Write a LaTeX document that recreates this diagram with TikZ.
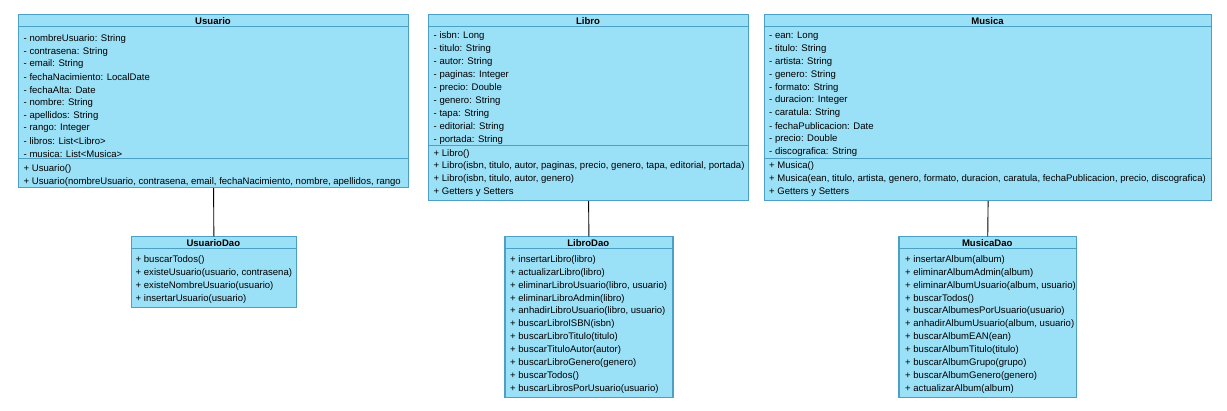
\documentclass[tikz,border=0pt]{standalone}
\usepackage{fontspec}
\setmainfont{Liberation Sans}
\definecolor{umlfill}{RGB}{154,224,247}
\definecolor{umlline}{RGB}{76,160,195}

\begin{document}
\begin{tikzpicture}[x=1pt, y=-1pt,
  classbox/.style={draw=umlline, fill=umlfill, line width=1.2pt, anchor=north west, inner sep=0pt},
  sepline/.style={draw=umlline, line width=1pt},
  member/.style={anchor=west, inner sep=0pt, yshift=-0.8pt, font=\fontsize{9.55}{11}\selectfont},
  classtitle/.style={inner sep=0pt, yshift=-0.5pt, font=\fontsize{9.55}{11}\selectfont\bfseries}]

\useasboundingbox (0,0) rectangle (1227,411);

% Usuario
\node[classbox, minimum width=390pt, minimum height=173pt] (usuario) at (18,14) {};
\node[classtitle] (usuariotitle) at (213,20.5) {Usuario};
\draw[sepline] (18,27) -- (408,27);
\draw[sepline] (18,159) -- (408,159);
\foreach \t [count=\i] in {- nombreUsuario: String, - contrasena: String, - email: String,
  - fechaNacimiento: LocalDate, - fechaAlta: Date, - nombre: String, - apellidos: String,
  - rango: Integer, - libros: List<Libro>, - musica: List<Musica>}
  \node[member] (usuario-a\i) at (23.5,{38+12.8*(\i-1)}) {\t};
\node[member] (usuario-m1) at (23.5,168) {+ Usuario()};
\node[member] (usuario-m2) at (23.5,181) {+ Usuario(nombreUsuario, contrasena, email, fechaNacimiento, nombre, apellidos, rango};

% Libro
\node[classbox, minimum width=320pt, minimum height=186pt] (libro) at (428,14) {};
\node[classtitle] (librotitle) at (588,20.5) {Libro};
\draw[sepline] (428,27) -- (748,27);
\draw[sepline] (428,146) -- (748,146);
\foreach \t [count=\i] in {- isbn: Long, - titulo: String, - autor: String, - paginas: Integer,
  - precio: Double, - genero: String, - tapa: String, - editorial: String, - portada: String}
  \node[member] (libro-a\i) at (433.5,{35.7+12.9*(\i-1)}) {\t};
\foreach \t [count=\i] in {+ Libro(),
  {+ Libro(isbn, titulo, autor, paginas, precio, genero, tapa, editorial, portada)},
  {+ Libro(isbn, titulo, autor, genero)}, + Getters y Setters}
  \node[member] (libro-m\i) at (433.5,{153+12.7*(\i-1)}) {\t};

% Musica
\node[classbox, minimum width=447pt, minimum height=186pt] (musica) at (764,14) {};
\node[classtitle] (musicatitle) at (987.5,20.5) {Musica};
\draw[sepline] (764,27) -- (1211,27);
\draw[sepline] (764,159) -- (1211,159);
\foreach \t [count=\i] in {- ean: Long, - titulo: String, - artista: String, - genero: String,
  - formato: String, - duracion: Integer, - caratula: String, - fechaPublicacion: Date,
  - precio: Double, - discografica: String}
  \node[member] (musica-a\i) at (769,{35.7+12.8*(\i-1)}) {\t};
\foreach \t [count=\i] in {+ Musica(),
  {+ Musica(ean, titulo, artista, genero, formato, duracion, caratula, fechaPublicacion, precio, discografica)},
  + Getters y Setters}
  \node[member] (musica-m\i) at (769,{165+13*(\i-1)}) {\t};

% UsuarioDao
\node[classbox, minimum width=164.5pt, minimum height=70.5pt] (usuariodao) at (131,236.3) {};
\node[classtitle] (usuariodaotitle) at (213.3,242.8) {UsuarioDao};
\draw[sepline] (131,249) -- (295.5,249);
\foreach \t [count=\i] in {+ buscarTodos(), {+ existeUsuario(usuario, contrasena)},
  + existeNombreUsuario(usuario), + insertarUsuario(usuario)}
  \node[member] (usuariodao-m\i) at (135.5,{259+13.1*(\i-1)}) {\t};

% LibroDao
\node[classbox, minimum width=168pt, minimum height=161pt] (librodao) at (504.3,236.3) {};
\node[classtitle] (librodaotitle) at (588.3,242.8) {LibroDao};
\draw[sepline] (504.3,249) -- (672.3,249);
\foreach \t [count=\i] in {+ insertarLibro(libro), + actualizarLibro(libro),
  {+ eliminarLibroUsuario(libro, usuario)}, + eliminarLibroAdmin(libro),
  {+ anhadirLibroUsuario(libro, usuario)}, + buscarLibroISBN(isbn), + buscarLibroTitulo(titulo),
  + buscarTituloAutor(autor), + buscarLibroGenero(genero), + buscarTodos(),
  + buscarLibrosPorUsuario(usuario)}
  \node[member] (librodao-m\i) at (510,{259+12.93*(\i-1)}) {\t};

% MusicaDao
\node[classbox, minimum width=177.7pt, minimum height=161pt] (musicadao) at (898.3,236.3) {};
\node[classtitle] (musicadaotitle) at (987.2,242.8) {MusicaDao};
\draw[sepline] (898.3,249) -- (1076,249);
\foreach \t [count=\i] in {+ insertarAlbum(album), + eliminarAlbumAdmin(album),
  {+ eliminarAlbumUsuario(album, usuario)}, + buscarTodos(), + buscarAlbumesPorUsuario(usuario),
  {+ anhadirAlbumUsuario(album, usuario)}, + buscarAlbumEAN(ean), + buscarAlbumTitulo(titulo),
  + buscarAlbumGrupo(grupo), + buscarAlbumGenero(genero), + actualizarAlbum(album)}
  \node[member] (musicadao-m\i) at (905,{259+12.93*(\i-1)}) {\t};

% links
\draw[line width=0.9pt] (usuario.south) -- (usuariodao.north);
\draw[line width=0.9pt] (libro.south) -- (librodao.north);
\draw[line width=0.9pt] (musica.south) -- (musicadao.north);

\end{tikzpicture}
\end{document}
